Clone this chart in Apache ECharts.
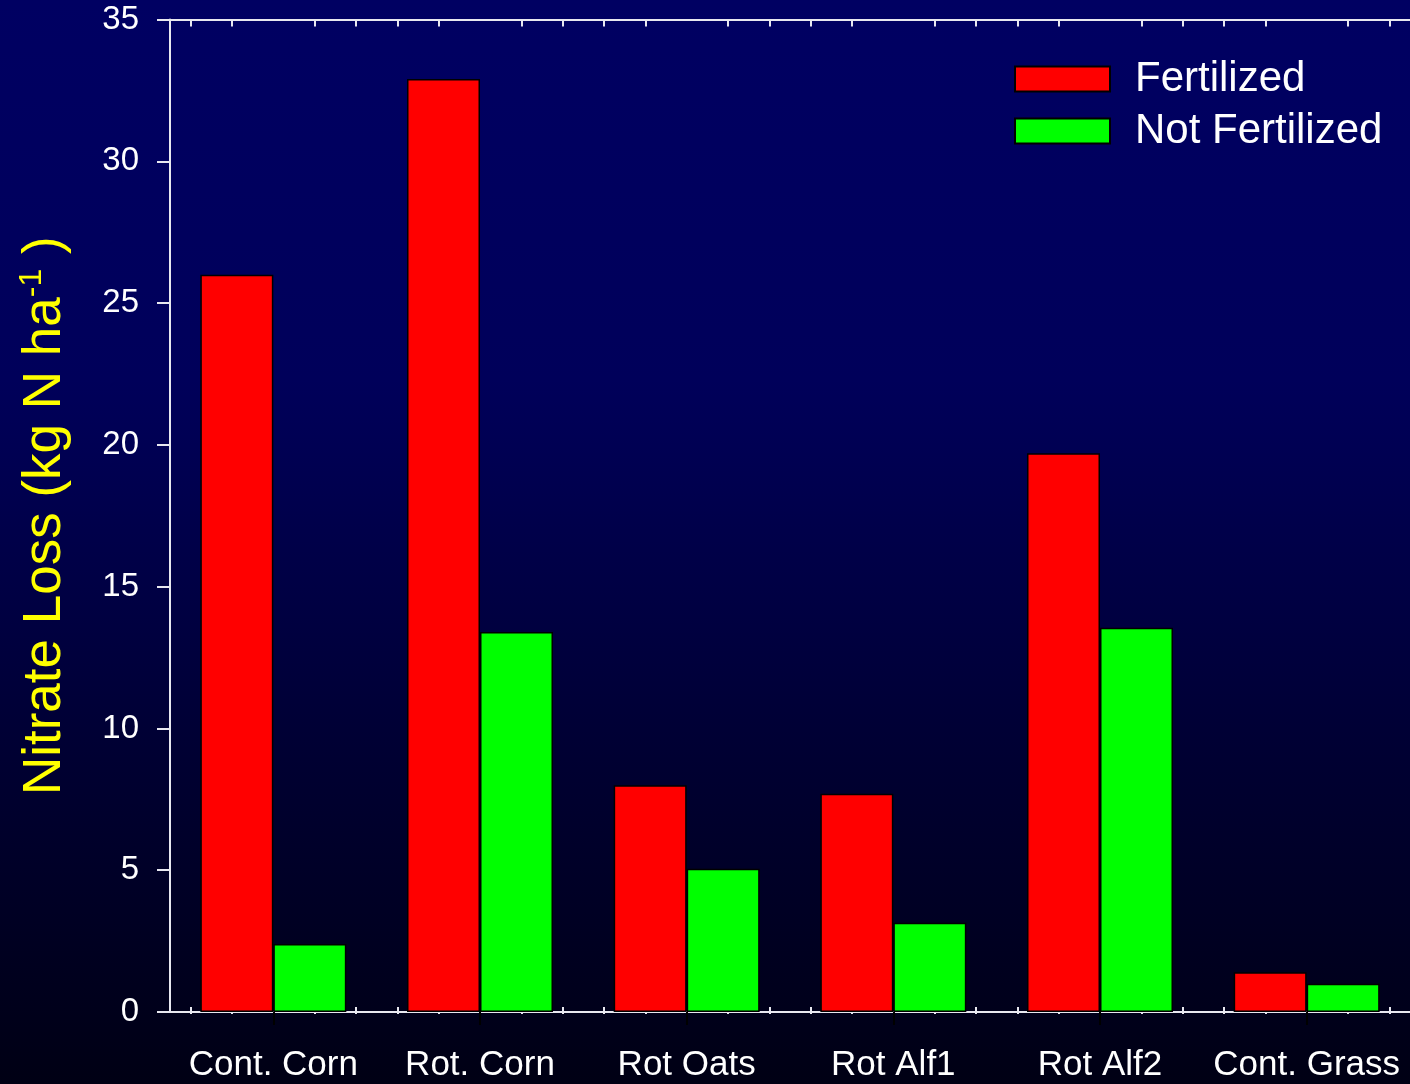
<!DOCTYPE html>
<html>
<head>
<meta charset="utf-8">
<title>Nitrate Loss</title>
<script src="https://cdn.jsdelivr.net/npm/echarts@6/dist/echarts.min.js"></script>
<style>
  html, body { margin: 0; padding: 0; background: #000; }
  #chart { width: 1410px; height: 1084px; }
</style>
</head>
<body>
<div id="chart"></div>
<script>
// Cropping systems and annual nitrate loss (kg N per ha)
const categories = ['Cont. Corn', 'Rot. Corn', 'Rot Oats', 'Rot Alf1', 'Rot Alf2', 'Cont. Grass'];
const fertilized = [26.0, 32.9, 8.0, 7.7, 19.7, 1.4];
const notFertilized = [2.4, 13.4, 5.05, 3.15, 13.55, 1.0];
const seriesNames = ['Fertilized', 'Not Fertilized'];
const yTicks = { min: 0, max: 35, interval: 5 };

// Five sub-slots per category carry the small inward tick marks
const SUB = 5;
const subSlots = [];
categories.forEach(function (c) {
  for (let k = 0; k < SUB; k++) subSlots.push(c + '#' + k);
});

const FONT = '"Liberation Sans", Arial, Helvetica, sans-serif';
const white = '#ffffff';
const axisGrey = '#e8e8f0';

const chart = echarts.init(document.getElementById('chart'), null, { renderer: 'canvas' });

const minorTickAxis = function (pos, showLine) {
  return {
    type: 'category',
    data: subSlots,
    position: pos,
    offset: pos === 'bottom' ? 2 : 0,
    boundaryGap: true,
    axisLine: { show: showLine, lineStyle: { color: axisGrey, width: 2 } },
    axisTick: {
      show: true,
      inside: true,
      length: 7,
      alignWithLabel: true,
      interval: function (idx) { return idx % SUB !== 2; },
      lineStyle: { color: axisGrey, width: 2 }
    },
    axisLabel: { show: false },
    splitLine: { show: false }
  };
};

chart.setOption({
  backgroundColor: {
    type: 'linear', x: 0, y: 0, x2: 0, y2: 1,
    colorStops: [
      { offset: 0, color: '#000062' },
      { offset: 0.35, color: '#00005a' },
      { offset: 0.7, color: '#000032' },
      { offset: 1, color: '#000014' }
    ]
  },
  animation: false,
  textStyle: { fontFamily: FONT },
  grid: { left: 170, top: 19.5, bottom: 72, right: -2, containLabel: false },
  legend: {
    orient: 'vertical',
    left: 1009,
    top: 53,
    itemWidth: 95,
    itemHeight: 25,
    itemGap: 10,
    icon: 'rect',
    textStyle: { color: white, fontSize: 42, fontFamily: FONT, padding: [0, 0, 0, 20] },
    data: seriesNames
  },
  xAxis: [
    {
      type: 'category',
      data: categories,
      position: 'bottom',
      offset: 2,
      axisLine: { show: true, lineStyle: { color: axisGrey, width: 2 } },
      axisTick: { show: true, alignWithLabel: true, length: 13, lineStyle: { color: '#000000', width: 2 } },
      axisLabel: { color: white, fontSize: 35, fontFamily: FONT, margin: 34, interval: 0 },
      splitLine: { show: false }
    },
    minorTickAxis('bottom', false),
    minorTickAxis('top', true)
  ],
  yAxis: {
    type: 'value',
    min: yTicks.min,
    max: yTicks.max,
    interval: yTicks.interval,
    name: 'Nitrate Loss (kg N ha{sup|-1} )',
    nameLocation: 'middle',
    nameGap: 96,
    nameRotate: 90,
    nameTextStyle: {
      color: '#ffff00',
      fontSize: 53,
      fontFamily: FONT,
      rich: { sup: { color: '#ffff00', fontSize: 32, fontFamily: FONT, verticalAlign: 'top', padding: [0, 0, 26, 0] } }
    },
    axisLine: { show: true, lineStyle: { color: axisGrey, width: 2 } },
    axisTick: { show: true, length: 13, lineStyle: { color: axisGrey, width: 2 } },
    axisLabel: { color: white, fontSize: 33, fontFamily: FONT, margin: 31 },
    splitLine: { show: false }
  },
  series: [
    {
      name: seriesNames[0],
      type: 'bar',
      xAxisIndex: 0,
      data: fertilized,
      barWidth: 73,
      barGap: '0%',
      itemStyle: { color: '#ff0000', borderColor: '#000000', borderWidth: 1.5 }
    },
    {
      name: seriesNames[1],
      type: 'bar',
      xAxisIndex: 0,
      data: notFertilized,
      barWidth: 73,
      barGap: '0%',
      itemStyle: { color: '#00ff00', borderColor: '#000000', borderWidth: 1.5 }
    }
  ]
});
</script>
</body>
</html>
